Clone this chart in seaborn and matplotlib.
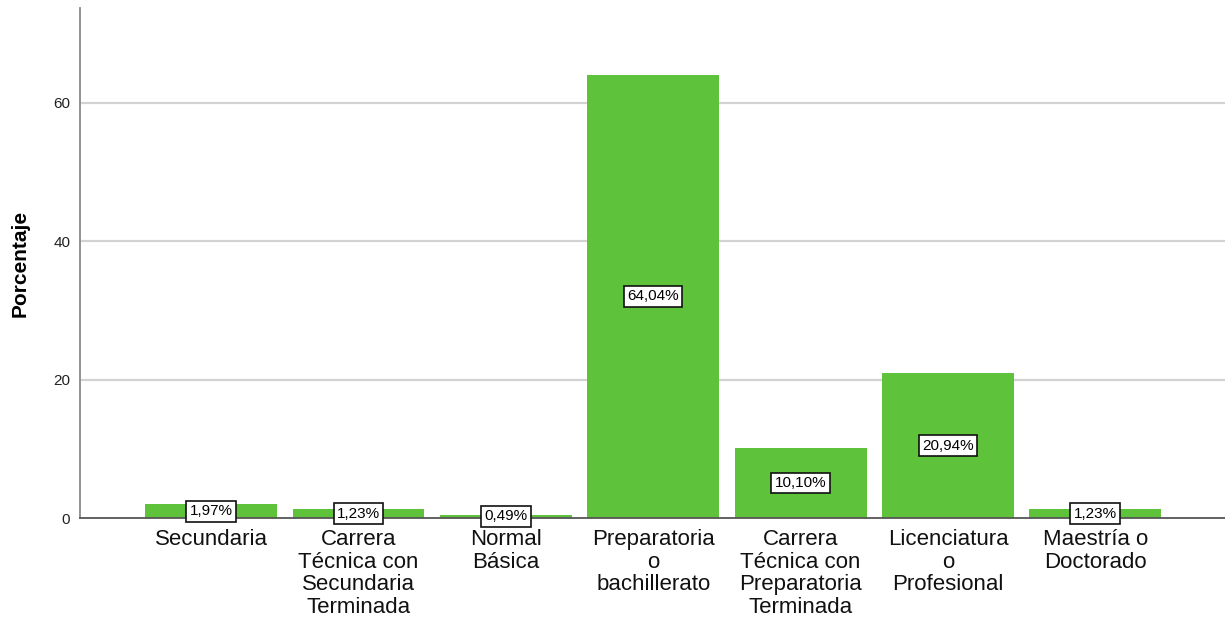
import matplotlib
matplotlib.use("Agg")
import matplotlib.pyplot as plt
import seaborn as sns
import pandas as pd

categories = ["Secundaria", "Carrera\nTécnica con\nSecundaria\nTerminada", "Normal\nBásica",
              "Preparatoria\no\nbachillerato", "Carrera\nTécnica con\nPreparatoria\nTerminada",
              "Licenciatura\no\nProfesional", "Maestría o\nDoctorado"]
values = [1.97, 1.23, 0.49, 64.04, 10.10, 20.94, 1.23]
value_labels = ["1,97%", "1,23%", "0,49%", "64,04%", "10,10%", "20,94%", "1,23%"]
yticks = [0, 20, 40, 60]

df = pd.DataFrame({"cat": categories, "val": values})

sns.set_theme(style="white")
plt.rcParams['font.family'] = ['Liberation Sans', 'DejaVu Sans']

fig = plt.figure(figsize=(12.25, 6.25), dpi=100)
ax = fig.add_axes([80/1225, 1 - 518/625, 1 - 80/1225, (518 - 8)/625])

for y in yticks[1:]:
    ax.axhline(y, color="#d2d2d2", lw=1.6, zorder=0)

sns.barplot(data=df, x="cat", y="val", color="#5EC23A", saturation=1, width=0.895,
            ax=ax, zorder=2, edgecolor="none")

for i, (v, lab) in enumerate(zip(values, value_labels)):
    ax.text(i, v / 2, lab, ha="center", va="center", fontsize=11, color="black", zorder=5,
            bbox=dict(boxstyle="square,pad=0.22", facecolor="white", edgecolor="#111111", lw=1.2))

ax.set_xlim(-0.89, 6.88)
ax.set_ylim(0, 73.7)
ax.set_yticks(yticks)
ax.set_yticklabels([str(t) for t in yticks], fontsize=11, color="#222222")
ax.set_xticks(range(len(categories)))
ax.set_xticklabels(categories, fontsize=16, color="#111111", linespacing=1.1)
ax.tick_params(axis="x", length=0, pad=8)
ax.tick_params(axis="y", length=0, pad=7)
ax.set_xlabel("")
ax.set_ylabel("Porcentaje", fontsize=15, fontweight="bold", labelpad=17, color="black")

for s in ["top", "right"]:
    ax.spines[s].set_visible(False)
ax.spines["left"].set_color("#8a8a8a")
ax.spines["left"].set_linewidth(1.3)
ax.spines["bottom"].set_color("#555555")
ax.spines["bottom"].set_linewidth(1.3)
ax.spines["bottom"].set_zorder(3)

fig.savefig("out.png", dpi=100, facecolor="white")
